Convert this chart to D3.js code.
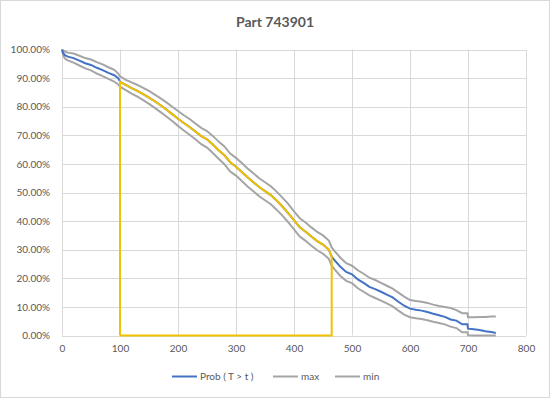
<!DOCTYPE html>
<html><head><meta charset="utf-8">
<script src="https://cdn.jsdelivr.net/npm/d3@7"></script>
<style>body{margin:0;background:#fff}svg{display:block;font-family:Lato,"Open Sans",sans-serif}</style>
</head><body>
<svg id="c" width="550" height="398"></svg>
<script>
const title = "Part 743901";
const tVals   = [0,2,5,10,20,30,40,50,60,70,80,90,97,100,110,120,130,140,150,160,170,180,190,200,210,220,230,240,250,260,270,280,290,300,310,320,330,340,350,360,370,380,390,400,410,420,430,440,450,460,465,470,480,490,500,510,520,530,540,550,560,570,580,590,600,610,620,630,640,650,660,670,680,690,699,700,710,720,730,740,748];
const probVals= [100,98.8,98.0,97.5,97.0,96.1,95.2,94.6,93.6,92.8,91.8,91.0,90.0,88.7,87.6,86.5,85.5,84.4,83.2,81.9,80.5,79.0,77.4,75.8,74.3,72.9,71.3,69.7,68.6,66.8,64.8,63.0,60.6,59.0,57.2,55.3,53.6,51.9,50.5,49.1,47.2,45.1,42.8,40.3,37.8,36.3,34.6,33.0,31.8,30.0,27.6,26.3,24.0,22.2,21.4,19.6,18.4,17.0,16.2,15.3,14.3,13.3,11.8,10.4,9.4,9.0,8.7,8.2,7.6,7.1,6.5,5.6,5.2,3.9,3.9,2.4,2.2,1.9,1.5,1.2,0.9];
const maxVals = [100,99.6,99.3,98.9,98.6,97.8,97.0,96.5,95.6,94.8,93.8,92.9,91.6,90.6,89.4,88.5,87.6,86.6,85.5,84.2,82.9,81.5,80.0,78.5,77.0,75.7,74.1,72.6,71.5,69.8,67.8,66.1,63.6,62.1,60.3,58.4,56.7,55.0,53.6,52.2,50.3,48.2,46.0,43.4,41.0,39.5,37.8,36.2,35.0,33.2,30.8,29.5,27.2,25.3,24.4,22.8,21.6,20.2,19.4,18.4,17.4,16.4,15.0,13.6,12.4,12.1,11.8,11.4,10.8,10.3,10.0,9.6,8.9,7.8,7.8,6.4,6.4,6.5,6.5,6.6,6.6];
const minVals = [100,98.0,96.8,96.2,95.4,94.4,93.4,92.7,91.6,90.7,89.7,88.8,87.8,87.0,85.8,84.6,83.5,82.3,81.0,79.6,78.1,76.6,75.0,73.3,71.7,70.2,68.6,66.9,65.7,63.8,61.8,59.9,57.3,55.9,54.0,52.1,50.4,48.7,47.3,45.9,44.0,41.9,39.6,37.1,34.6,33.1,31.4,29.8,28.6,26.8,24.4,23.1,20.8,19.1,18.3,16.5,15.3,14.0,13.1,12.2,11.2,10.2,8.7,7.3,6.4,6.0,5.8,5.3,4.8,4.4,3.9,3.1,2.6,1.1,1.1,0.1,0.0,0.0,0.0,0.0,0.0];
const highlight = [100, 465];
const xTicks = [0,100,200,300,400,500,600,700,800];
const yTicks = [0,10,20,30,40,50,60,70,80,90,100];
const legendLabels = ["Prob ( T > t )","max","min"];

const svg = d3.select("#c");
const x = d3.scaleLinear().domain([0,800]).range([62,526]);
const y = d3.scaleLinear().domain([0,100]).range([335.5,49.5]);

svg.append("rect").attr("x",0.5).attr("y",0.5).attr("width",549).attr("height",397)
  .attr("fill","#fff").attr("stroke","#d9d9d9");

svg.append("text").attr("x",275).attr("y",27).attr("text-anchor","middle")
  .attr("font-size",14).attr("font-weight","bold").attr("fill","#595959").text(title);

// gridlines
const g = svg.append("g");
g.selectAll("line.h").data(yTicks).join("line").attr("class","h")
  .attr("x1",x(0)).attr("x2",x(800)).attr("y1",d=>Math.round(y(d))+0.5).attr("y2",d=>Math.round(y(d))+0.5)
  .attr("stroke","#d9d9d9").attr("stroke-width",1);
g.selectAll("line.v").data(xTicks).join("line").attr("class","v")
  .attr("y1",y(0)).attr("y2",y(100)).attr("x1",d=>Math.round(x(d))+0.5).attr("x2",d=>Math.round(x(d))+0.5)
  .attr("stroke","#d9d9d9").attr("stroke-width",1);

// axes labels
const yAxis = d3.axisLeft(y).tickValues(yTicks).tickSize(0).tickPadding(12).tickFormat(d=>d.toFixed(2)+"%");
const ya = svg.append("g").attr("transform",`translate(${x(0)},0)`).call(yAxis);
ya.select(".domain").remove();
ya.selectAll("text").attr("fill","#595959").attr("font-size",10).attr("font-family","Lato, sans-serif");
const xAxis = d3.axisBottom(x).tickValues(xTicks).tickSize(0).tickPadding(9);
const xa = svg.append("g").attr("transform",`translate(0,${y(0)})`).call(xAxis);
xa.select(".domain").remove();
xa.selectAll("text").attr("fill","#595959").attr("font-size",10).attr("font-family","Lato, sans-serif");

const pts = (vals)=>tVals.map((t,i)=>[t,vals[i]]);
const line = d3.line().x(d=>x(d[0])).y(d=>y(d[1]));
const grayC = "#a5a5a5", blueC = "#4472c4", goldC = "#f2c200";
svg.append("path").attr("d",line(pts(maxVals))).attr("fill","none").attr("stroke",grayC).attr("stroke-width",2);
svg.append("path").attr("d",line(pts(minVals))).attr("fill","none").attr("stroke",grayC).attr("stroke-width",2);
svg.append("path").attr("d",line(pts(probVals))).attr("fill","none").attr("stroke",blueC).attr("stroke-width",2);

const probAt = t => { const i = tVals.indexOf(t); return probVals[i]; };
const hl = pts(probVals).filter(d=>d[0]>=highlight[0] && d[0]<=highlight[1]);
const goldPath = [[highlight[0],0],[highlight[0],probAt(highlight[0])]].concat(hl.slice(1))
  .concat([[highlight[1],0],[highlight[0],0]]);
svg.append("path").attr("d",line(goldPath)).attr("fill","none").attr("stroke",goldC).attr("stroke-width",2);

// legend
const lg = svg.append("g");
const lx = [172,273,335];
const cols = [blueC, grayC, grayC];
legendLabels.forEach((lab,i)=>{
  lg.append("line").attr("x1",lx[i]).attr("x2",lx[i]+25).attr("y1",376.5).attr("y2",376.5)
    .attr("stroke",cols[i]).attr("stroke-width",2);
  lg.append("text").attr("x",lx[i]+28).attr("y",380).attr("font-size",10).attr("fill","#595959").text(lab);
});
</script>
</body></html>
